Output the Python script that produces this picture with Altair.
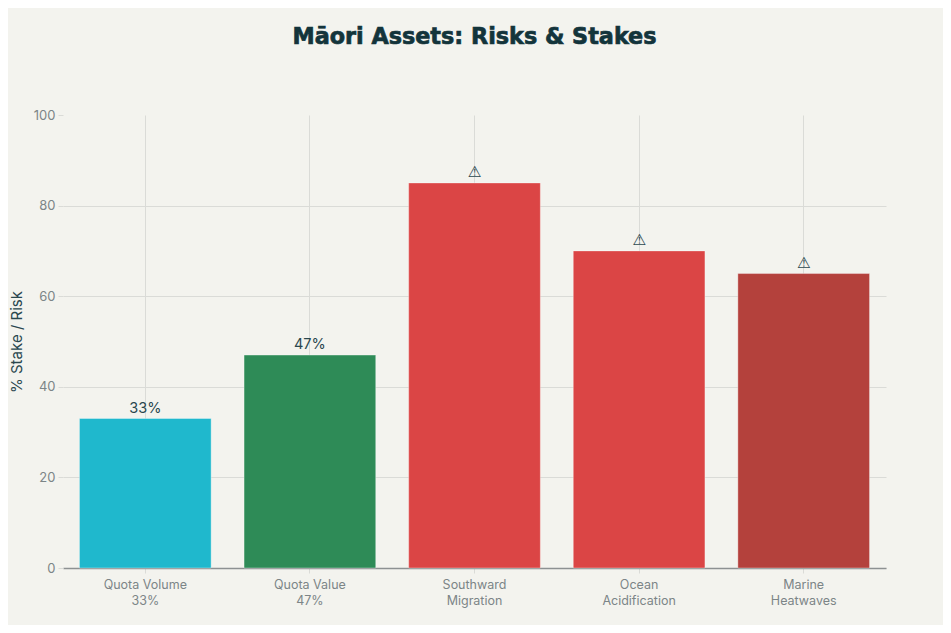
import altair as alt
import pandas as pd

title_text = "Māori Assets: Risks & Stakes"
categories = ["Quota Volume\n33%", "Quota Value\n47%", "Southward\nMigration", "Ocean\nAcidification", "Marine\nHeatwaves"]
values = [33, 47, 85, 70, 65]
annotations = ["33%", "47%", "⚠", "⚠", "⚠"]
note_fonts = ["Inter", "Inter", "DejaVu Sans", "DejaVu Sans", "DejaVu Sans"]
colors = ["#1FB8CD", "#2E8B57", "#DB4545", "#DB4545", "#B4413C"]
y_ticks = [0, 20, 40, 60, 80, 100]

df = pd.DataFrame({"cat": categories, "val": values, "note": annotations, "col": colors, "font": note_fonts})

x = alt.X("cat:N", sort=categories, title=None,
          scale=alt.Scale(paddingInner=0.2, paddingOuter=0.1),
          axis=alt.Axis(labelAngle=0, labelExpr="split(datum.label, '\\n')", labelLineHeight=16,
                        labelFont="Inter", labelFontSize=12.5, labelColor="#7C8587", labelPadding=5,
                        grid=True, gridColor="#DADBD7", gridWidth=1,
                        domainColor="#8D9192", domainWidth=1.5,
                        tickColor="#DADBD7", tickSize=5))
y = alt.Y("val:Q", title="% Stake / Risk",
          scale=alt.Scale(domain=[0, 100], nice=False),
          axis=alt.Axis(values=y_ticks, labelFont="Inter", labelFontSize=13, labelColor="#7C8587",
                        labelPadding=3, domain=False, grid=True, gridColor="#DADBD7", gridWidth=1,
                        gridOpacity={"condition": {"test": "datum.value === 100", "value": 0}, "value": 1},
                        tickColor="#DADBD7", tickSize=5,
                        titleFont="Inter", titleFontSize=15, titleFontWeight="normal",
                        titleColor="#2A474E", titlePadding=9))

bars = alt.Chart(df).mark_bar(stroke="#FFFFFF", strokeOpacity=0.35, strokeWidth=1).encode(
    x=x, y=y, color=alt.Color("col:N", scale=None))
pct = alt.Chart(df).transform_filter("datum.font == 'Inter'").mark_text(
    baseline="bottom", dy=-3, font="Inter", fontSize=14.5, color="#2A474E").encode(
    x=alt.X("cat:N", sort=categories), y=alt.Y("val:Q"), text="note:N")
warn = alt.Chart(df).transform_filter("datum.font != 'Inter'").mark_text(
    baseline="bottom", dy=-2.5, font="DejaVu Sans", fontSize=15.5, color="#2A474E").encode(
    x=alt.X("cat:N", sort=categories), y=alt.Y("val:Q"), text="note:N")
heading = alt.Chart(pd.DataFrame({"t": [title_text]})).mark_text(
    font="DejaVu Sans", fontSize=22.3, fontWeight="bold", color="#13343B",
    stroke="#13343B", strokeWidth=0.7, align="center", baseline="alphabetic").encode(
    x=alt.value(411.5), y=alt.value(-71), text="t:N")

chart = (bars + pct + warn + heading).properties(
    width=823, height=453,
    background="#F3F3EE",
    padding={"left": 55, "top": 107, "right": 57, "bottom": 57},
    autosize=alt.AutoSizeParams(type="none"),
).configure_view(stroke=None)

chart.save("out.html", embed_options={"renderer": "svg", "actions": False})
